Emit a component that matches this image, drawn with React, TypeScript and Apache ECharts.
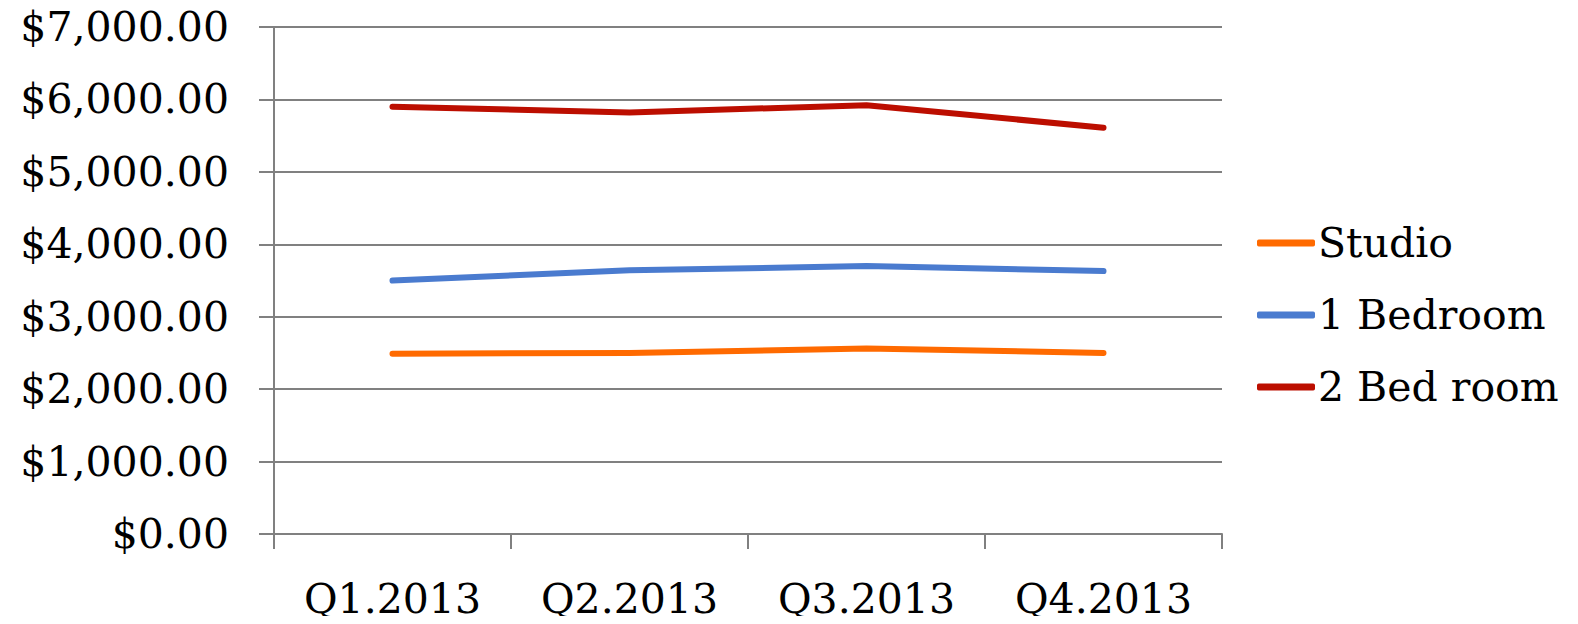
import React, { useEffect, useRef } from "react";
import * as echarts from "echarts";

const categories = ["Q1.2013", "Q2.2013", "Q3.2013", "Q4.2013"];
const studio = [2490, 2500, 2560, 2500];
const oneBedroom = [3500, 3640, 3700, 3630];
const twoBedroom = [5900, 5820, 5920, 5610];
const seriesNames = ["Studio", "1 Bedroom", "2 Bed room"];
const colors = ["#FF6A00", "#4A7BCF", "#BC0E00"];

const FONT = "DejaVu Serif";

export default function App() {
  const ref = useRef<HTMLDivElement>(null);
  useEffect(() => {
    if (!ref.current) return;
    const chart = echarts.init(ref.current, null, { renderer: "svg" });
    const data = [studio, oneBedroom, twoBedroom];
    chart.setOption({
      animation: false,
      grid: { left: 274, right: 356, top: 27, bottom: 90, containLabel: false },
      legend: {
        orient: "vertical",
        left: 1252,
        top: 217,
        icon: "roundRect",
        itemWidth: 58,
        itemHeight: 7,
        itemGap: 30,
        textStyle: { fontFamily: FONT, fontSize: 41, color: "#000", lineHeight: 42, padding: [0, 0, 0, -2] },
        data: seriesNames,
      },
      xAxis: {
        type: "category",
        data: categories,
        boundaryGap: true,
        axisLine: { lineStyle: { color: "#808080", width: 2 } },
        axisTick: { show: true, length: 15, lineStyle: { color: "#808080", width: 2 } },
        axisLabel: { fontFamily: FONT, fontSize: 41, color: "#000", margin: 44 },
        splitLine: { show: false },
      },
      yAxis: {
        type: "value",
        min: 0,
        max: 7000,
        interval: 1000,
        axisLine: { show: true, lineStyle: { color: "#808080", width: 2 } },
        axisTick: { show: true, length: 15, lineStyle: { color: "#808080", width: 2 } },
        axisLabel: {
          fontFamily: FONT,
          fontSize: 41,
          color: "#000",
          margin: 45,
          formatter: (v: number) =>
            "$" + v.toLocaleString("en-US", { minimumFractionDigits: 2, maximumFractionDigits: 2 }),
        },
        splitLine: { show: true, lineStyle: { color: "#808080", width: 2 } },
      },
      series: data.map((d, i) => ({
        name: seriesNames[i],
        type: "line",
        data: d,
        symbol: "none",
        color: colors[i],
        lineStyle: { width: 6, color: colors[i], cap: "round", join: "round" },
      })),
    });
    return () => chart.dispose();
  }, []);
  return <div ref={ref} style={{ width: 1578, height: 624, margin: -8 }} />;
}
